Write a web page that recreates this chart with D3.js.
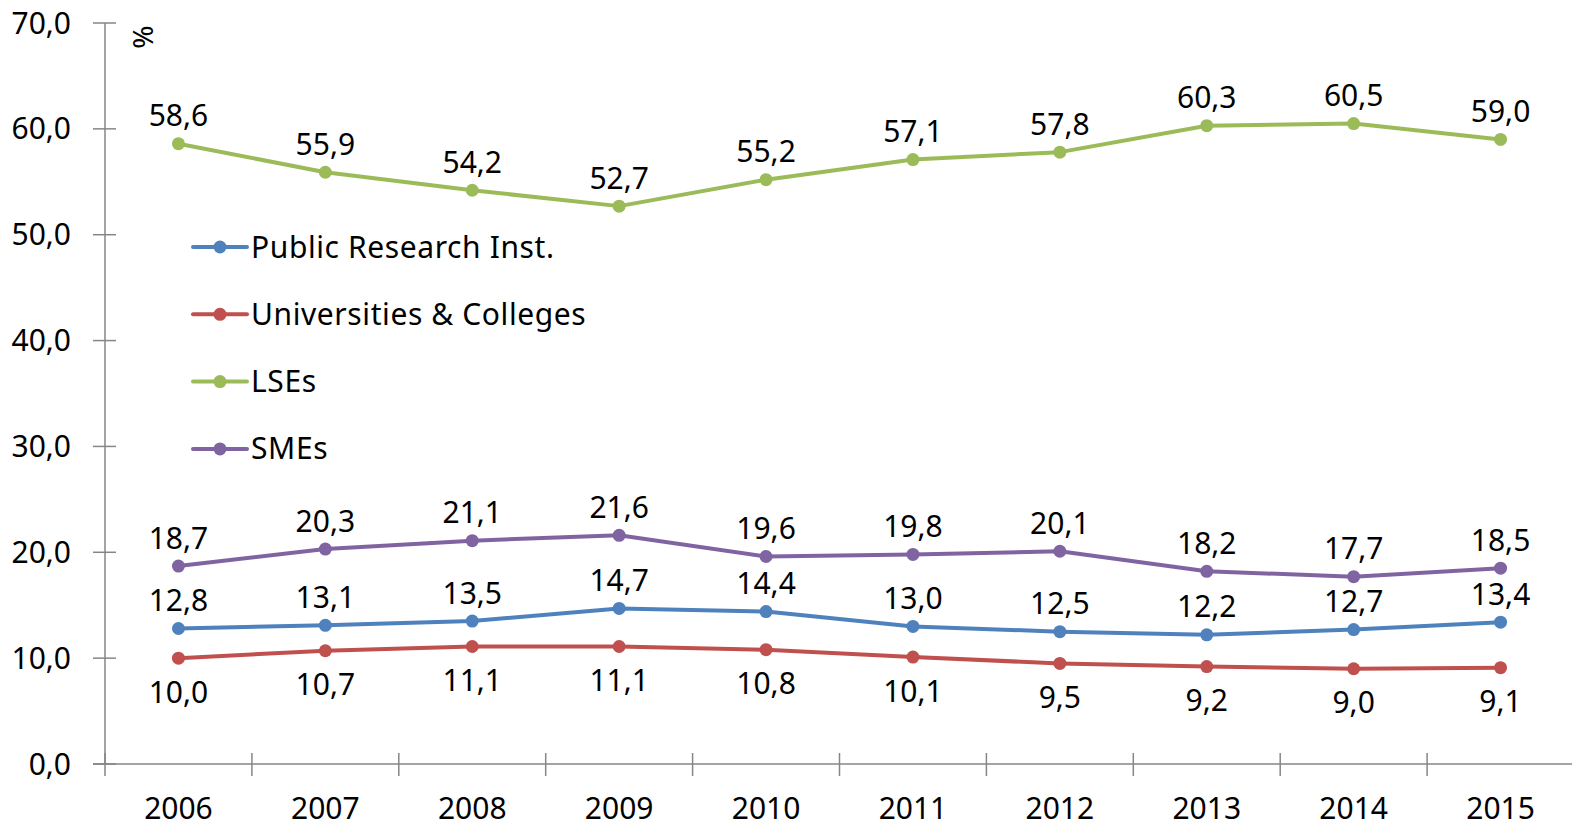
<!DOCTYPE html>
<html>
<head>
<meta charset="utf-8">
<script src="https://cdn.jsdelivr.net/npm/d3@7"></script>
<style>
  body { margin: 0; background: #fff; }
  svg { display: block; font-family: "Noto Sans", "Open Sans", sans-serif; }
</style>
</head>
<body>
<svg id="chart" width="1572" height="828"></svg>
<script>
var years = ["2006", "2007", "2008", "2009", "2010", "2011", "2012", "2013", "2014", "2015"];
var publicInst = [12.8, 13.1, 13.5, 14.7, 14.4, 13.0, 12.5, 12.2, 12.7, 13.4];
var universities = [10.0, 10.7, 11.1, 11.1, 10.8, 10.1, 9.5, 9.2, 9.0, 9.1];
var lses = [58.6, 55.9, 54.2, 52.7, 55.2, 57.1, 57.8, 60.3, 60.5, 59.0];
var smes = [18.7, 20.3, 21.1, 21.6, 19.6, 19.8, 20.1, 18.2, 17.7, 18.5];
var yTicks = [0, 10, 20, 30, 40, 50, 60, 70];

var series = [
    { name: "Public Research Inst.", values: publicInst, color: "#4f81bd", below: false },
    { name: "Universities & Colleges", values: universities, color: "#c0504d", below: true },
    { name: "LSEs", values: lses, color: "#9bbb59", below: false },
    { name: "SMEs", values: smes, color: "#8064a2", below: false }
];

var svg = d3.select("#chart");
var fmt = function (v) { return d3.format(".1f")(v).replace(".", ","); };
var fs = 30;

// scales
var x = d3.scaleBand().domain(years).range([105, 105 + 10 * 146.9]).padding(0);
var y = d3.scaleLinear().domain([0, 70]).range([764, 23]);
var cx = function (i) { return x(years[i]) + x.bandwidth() / 2; };

var axisColor = "#868686";

// y axis
svg.append("line")
    .attr("x1", 105).attr("x2", 105)
    .attr("y1", y(70)).attr("y2", y(0))
    .attr("stroke", axisColor).attr("stroke-width", 1.5);
svg.selectAll(".ytick").data(yTicks).enter().append("line")
    .attr("x1", 93).attr("x2", 116)
    .attr("y1", function (d) { return y(d); })
    .attr("y2", function (d) { return y(d); })
    .attr("stroke", axisColor).attr("stroke-width", 1.5);
svg.selectAll(".ylab").data(yTicks).enter().append("text")
    .attr("x", 71)
    .attr("y", function (d) { return y(d); })
    .attr("dy", "0.35em")
    .attr("text-anchor", "end")
    .attr("font-size", fs)
    .attr("fill", "#000")
    .text(fmt);

// unit label
svg.append("text")
    .attr("transform", "translate(143,37) rotate(-90)")
    .attr("text-anchor", "middle")
    .attr("dy", "0.35em")
    .attr("font-size", 28)
    .text("%");

// x axis
svg.append("line")
    .attr("x1", 93).attr("x2", 1572)
    .attr("y1", y(0)).attr("y2", y(0))
    .attr("stroke", axisColor).attr("stroke-width", 1.5);
var bounds = years.map(function (d) { return x(d); });
svg.selectAll(".xtick").data(bounds).enter().append("line")
    .attr("x1", function (d) { return d; })
    .attr("x2", function (d) { return d; })
    .attr("y1", y(0) - 11).attr("y2", y(0) + 12)
    .attr("stroke", axisColor).attr("stroke-width", 1.5);
svg.selectAll(".xlab").data(years).enter().append("text")
    .attr("x", function (d, i) { return cx(i); })
    .attr("y", 808)
    .attr("dy", "0.35em")
    .attr("text-anchor", "middle")
    .attr("font-size", fs)
    .text(function (d) { return d; });

// lines
var line = d3.line()
    .x(function (d, i) { return cx(i); })
    .y(function (d) { return y(d); });

series.forEach(function (s) {
    var g = svg.append("g");
    g.append("path")
        .attr("d", line(s.values))
        .attr("fill", "none")
        .attr("stroke", s.color)
        .attr("stroke-width", 4)
        .attr("stroke-linejoin", "round");
    g.selectAll("circle").data(s.values).enter().append("circle")
        .attr("cx", function (d, i) { return cx(i); })
        .attr("cy", function (d) { return y(d); })
        .attr("r", 6.5)
        .attr("fill", s.color);
    g.selectAll("text").data(s.values).enter().append("text")
        .attr("x", function (d, i) { return cx(i); })
        .attr("y", function (d) { return y(d) + (s.below ? 34 : -28); })
        .attr("dy", "0.35em")
        .attr("text-anchor", "middle")
        .attr("font-size", fs)
        .text(fmt);
});

// legend
var legend = svg.append("g");
series.forEach(function (s, i) {
    var ly = 247 + i * 67.3;
    legend.append("line")
        .attr("x1", 193).attr("x2", 247)
        .attr("y1", ly).attr("y2", ly)
        .attr("stroke", s.color).attr("stroke-width", 4)
        .attr("stroke-linecap", "round");
    legend.append("circle")
        .attr("cx", 220).attr("cy", ly).attr("r", 6.5)
        .attr("fill", s.color);
    legend.append("text")
        .attr("x", 251).attr("y", ly)
        .attr("dy", "0.35em")
        .attr("font-size", fs)
        .attr("letter-spacing", 0.6)
        .text(s.name);
});
</script>
</body>
</html>
